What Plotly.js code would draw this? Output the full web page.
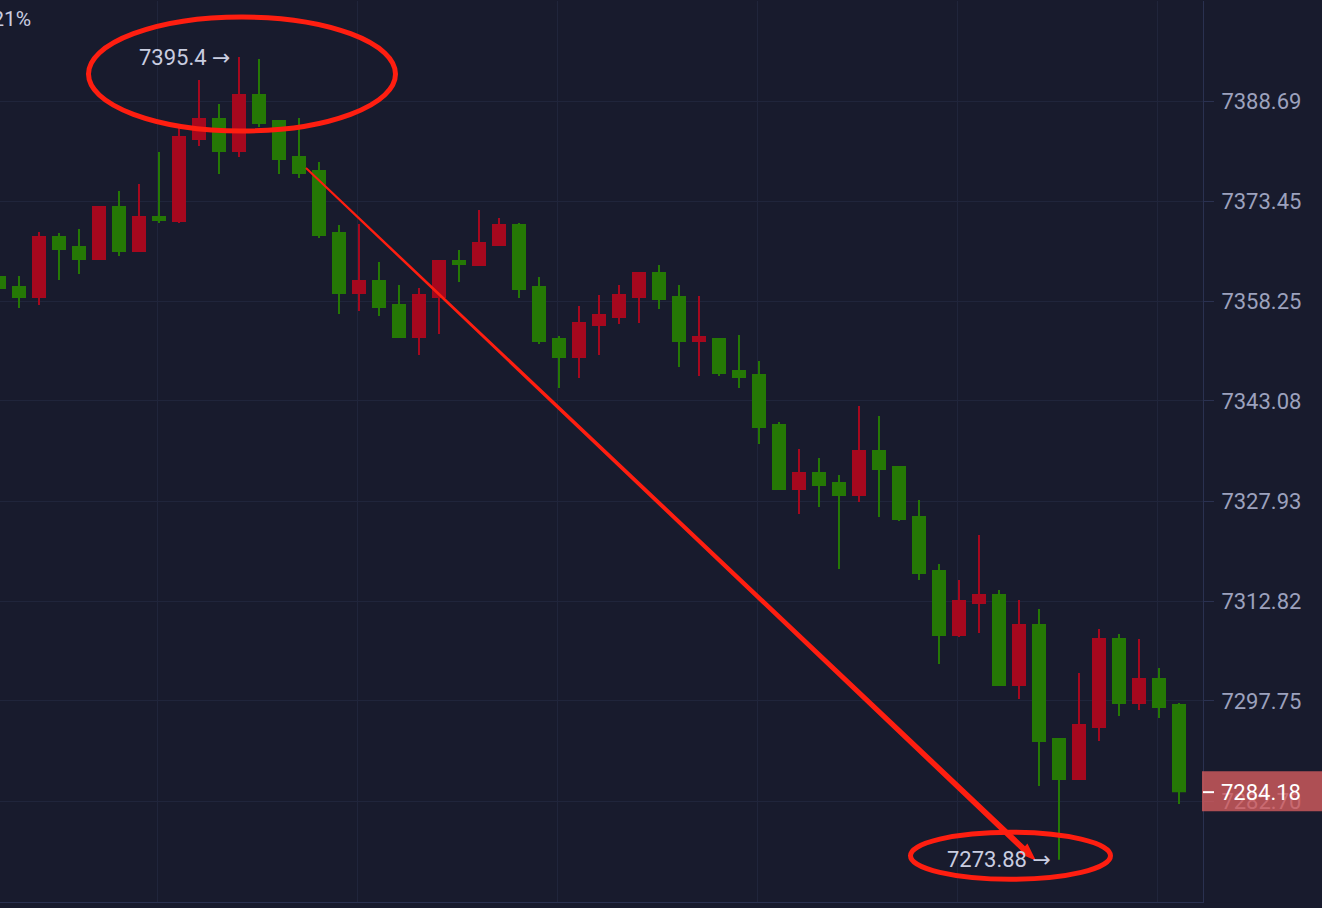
<!DOCTYPE html>
<html><head><meta charset="utf-8">
<script src="https://cdn.plot.ly/plotly-3.0.1.min.js"></script>
<style>html,body{margin:0;padding:0;background:#181b2d;overflow:hidden}#chart{width:1322px;height:908px}</style>
</head><body><div id="chart"></div>
<script>
// ---- data ----
const candleIdx = [0,1,2,3,4,5,6,7,8,9,10,11,12,13,14,15,16,17,18,19,20,21,22,23,24,25,26,27,28,29,30,31,32,33,34,35,36,37,38,39,40,41,42,43,44,45,46,47,48,49,50,51,52,53,54,55,56,57,58,59];
const openP = [7361.90,7360.38,7358.86,7367.98,7366.45,7364.63,7372.54,7365.85,7371.02,7370.41,
  7382.89,7385.94,7381.07,7389.60,7385.64,7380.15,7378.02,7368.58,7359.46,7361.29,
  7357.64,7352.78,7358.86,7364.33,7363.72,7366.76,7369.80,7360.38,7352.48,7349.75,
  7354.61,7355.82,7358.86,7362.50,7358.86,7352.18,7352.48,7347.63,7347.02,7339.44,
  7329.75,7332.17,7330.66,7328.84,7335.50,7333.08,7325.52,7317.36,7307.70,7312.53,
  7313.73,7300.16,7309.20,7292.03,7286.01,7293.83,7307.09,7297.45,7301.06,7297.15];
const highP = [7362.65,7362.05,7368.74,7368.58,7369.19,7372.69,7374.97,7376.04,7380.91,7385.18,
  7391.89,7388.23,7395.40,7395.09,7385.64,7386.09,7379.39,7369.80,7369.95,7364.17,
  7360.68,7360.22,7364.33,7366.00,7372.08,7370.87,7370.10,7361.90,7352.94,7357.49,
  7359.16,7360.68,7362.50,7363.72,7360.68,7359.01,7352.48,7353.09,7349.14,7339.90,
  7335.81,7334.44,7331.87,7342.32,7340.80,7333.08,7328.09,7318.41,7316.00,7322.80,
  7314.49,7312.98,7311.62,7292.03,7301.97,7308.60,7307.85,7307.09,7302.72,7297.45];
const lowP = [7359.62,7357.19,7357.64,7361.44,7362.35,7364.63,7365.09,7365.85,7370.10,7370.10,
  7381.83,7377.56,7380.15,7384.72,7377.56,7376.95,7367.82,7356.28,7356.73,7355.97,
  7352.78,7350.05,7353.24,7361.14,7363.72,7366.76,7358.70,7351.72,7345.05,7346.56,
  7350.05,7354.76,7354.91,7357.03,7348.23,7346.87,7346.87,7345.05,7336.56,7329.75,
  7325.97,7327.03,7317.66,7327.79,7325.52,7324.91,7316.00,7303.32,7307.40,7308.00,
  7300.01,7298.05,7284.96,7273.88,7285.86,7291.72,7295.49,7296.39,7295.19,7282.25];
const closeP = [7360.22,7358.86,7367.98,7366.15,7364.63,7372.54,7365.85,7371.02,7370.56,7383.20,
  7385.94,7381.07,7389.60,7385.33,7379.85,7377.71,7368.28,7359.46,7361.29,7357.34,
  7352.78,7359.16,7364.33,7363.87,7367.06,7369.80,7360.07,7352.18,7349.75,7354.91,
  7356.12,7359.16,7362.50,7358.55,7352.18,7352.78,7347.32,7346.72,7339.14,7329.75,
  7332.17,7330.36,7328.84,7335.50,7332.78,7325.21,7317.05,7307.70,7312.83,7313.73,
  7300.16,7309.20,7291.72,7286.01,7294.13,7307.09,7297.45,7301.06,7296.84,7284.18];
const yTickVals = [7388.69,7373.45,7358.25,7343.08,7327.93,7312.82,7297.75,7282.70];
const yTickText = ['7388.69','7373.45','7358.25','7343.08','7327.93','7312.82','7297.75','7282.70'];
const changeText = '-1.21%';

// ---- styling / layout ----
const BG='#181b2d', GRID='#20253b', AXIS='#2a3150', RED='#a6081e', GREEN='#257805', MARK='#fe1e10';
const W=1322, H=908, PL=0, PR=1203, PT=1, PB=902;
const xr = [(PL+1)/20, (PR+1)/20];
const s = (Math.log10(yTickVals[0]) - Math.log10(yTickVals[7]))/700;
const yTop = Math.log10(yTickVals[0]) + (101-PT)*s;
const yBot = Math.log10(yTickVals[7]) - (PB-801)*s;
const px = k => PL + (k - xr[0])/(xr[1]-xr[0])*(PR-PL);
const py = v => PT + (yTop - Math.log10(v))/(yTop-yBot)*(PB-PT);
const fx = p => (p-PL)/(PR-PL);
const fy = p => (PB-p)/(PB-PT);

let iMax=0, iMin=0;
highP.forEach((v,i)=>{ if(v>highP[iMax]) iMax=i; });
lowP.forEach((v,i)=>{ if(v<lowP[iMin]) iMin=i; });
const last = closeP.length-1;

const trace = {
  type:'candlestick', x:candleIdx, open:openP, high:highP, low:lowP, close:closeP,
  increasing:{line:{color:RED,width:2}, fillcolor:RED},
  decreasing:{line:{color:GREEN,width:2}, fillcolor:GREEN},
  whiskerwidth:0, hoverinfo:'skip', showlegend:false
};

// hand-drawn marks, positioned relative to the data points
const hx = px(iMax), hy = py(highP[iMax]);
const lx = px(iMin), ly = py(lowP[iMin]);
const sx = px(15)+7, sy = py(closeP[15])-5;
const tx = lx-23, ty = ly+1;
const dx = tx-sx, dy = ty-sy, len = Math.hypot(dx,dy);
const ux = dx/len, uy = dy/len, nx = -uy, ny = ux;
const bx = tx-ux*18, by = ty-uy*18;
const pts = [[sx+nx*1,sy+ny*1],[bx+nx*3,by+ny*3],[bx+nx*6.5,by+ny*6.5],[tx,ty],[bx-nx*6.5,by-ny*6.5],[bx-nx*3,by-ny*3],[sx-nx*1,sy-ny*1]];
const arrowPath = 'M' + pts.map(p=>fx(p[0]).toFixed(5)+','+fy(p[1]).toFixed(5)).join(' L') + ' Z';
const cy = py(closeP[last]);

const shapes = [
  {type:'circle', xref:'paper', yref:'paper', x0:fx(hx+3-153.5), x1:fx(hx+3+153.5), y0:fy(hy+17+57), y1:fy(hy+17-57), line:{color:MARK,width:5}, layer:'above'},
  {type:'circle', xref:'paper', yref:'paper', x0:fx(lx-48.5-100), x1:fx(lx-48.5+100), y0:fy(ly-4+23.5), y1:fy(ly-4-23.5), line:{color:MARK,width:5}, layer:'above'},
  {type:'path', xref:'paper', yref:'paper', path:arrowPath, fillcolor:MARK, line:{width:0}, layer:'above'},
  {type:'rect', xref:'paper', yref:'paper', x0:fx(1202), x1:fx(1330), y0:fy(cy+20), y1:fy(cy-20), fillcolor:'rgba(212,92,94,0.8)', line:{width:0}, layer:'above'},
  {type:'line', xref:'paper', yref:'paper', x0:fx(1203), x1:fx(1214), y0:fy(cy+1), y1:fy(cy+1), line:{color:'#ffffff',width:2}, layer:'above'}
];

const FONT='Roboto, "Noto Sans", sans-serif';
const ARROW = ' <span style="font-family:\'DejaVu Sans\'">→</span>';
const annotations = [
  {xref:'x', yref:'y', x:iMax-0.3, y:Math.log10(highP[iMax]), xanchor:'right', yanchor:'middle', showarrow:false,
   text:highP[iMax].toFixed(1).replace(/\.0$/,'') + ARROW, font:{family:FONT,size:22,color:'#c9cde0'}},
  {xref:'x', yref:'y', x:iMin-0.3, y:Math.log10(lowP[iMin]), xanchor:'right', yanchor:'middle', showarrow:false,
   text:lowP[iMin].toFixed(2) + ARROW, font:{family:FONT,size:22,color:'#c9cde0'}},
  {xref:'paper', yref:'paper', x:fx(1219), y:fy(cy+1), xanchor:'left', yanchor:'middle', showarrow:false,
   text:closeP[last].toFixed(2), font:{family:FONT,size:22,color:'#ffffff'}},
  {xref:'paper', yref:'paper', x:fx(33), y:fy(19), xanchor:'right', yanchor:'middle', showarrow:false,
   text:changeText, font:{family:FONT,size:21,color:'#c9cde0'}}
];

const layout = {
  width:W, height:H, paper_bgcolor:BG, plot_bgcolor:BG,
  margin:{l:PL, r:W-PR, t:PT, b:H-PB, pad:0},
  showlegend:false, dragmode:false, hovermode:false,
  font:{family:FONT, color:'#9ca1bd'},
  boxgap:0.4, boxgroupgap:0,
  xaxis:{range:xr, tickvals:[7.9,17.9,27.9,37.9,47.9,57.9], showticklabels:false, ticks:'',
    showgrid:true, gridcolor:GRID, gridwidth:1, zeroline:false, showline:true, linecolor:AXIS, linewidth:1,
    rangeslider:{visible:false}, fixedrange:true},
  yaxis:{type:'log', side:'right', range:[yBot,yTop], tickvals:yTickVals, ticktext:yTickText,
    ticks:'outside', ticklen:10, tickwidth:1, tickcolor:AXIS, showgrid:true, gridcolor:GRID, gridwidth:1,
    showline:true, linecolor:AXIS, linewidth:1, zeroline:false, ticklabelstandoff:3,
    tickfont:{family:FONT, size:22, color:'#9ca1bd'}, fixedrange:true},
  shapes:shapes, annotations:annotations
};
Plotly.newPlot('chart',[trace],layout,{displayModeBar:false, staticPlot:true});
</script></body></html>
